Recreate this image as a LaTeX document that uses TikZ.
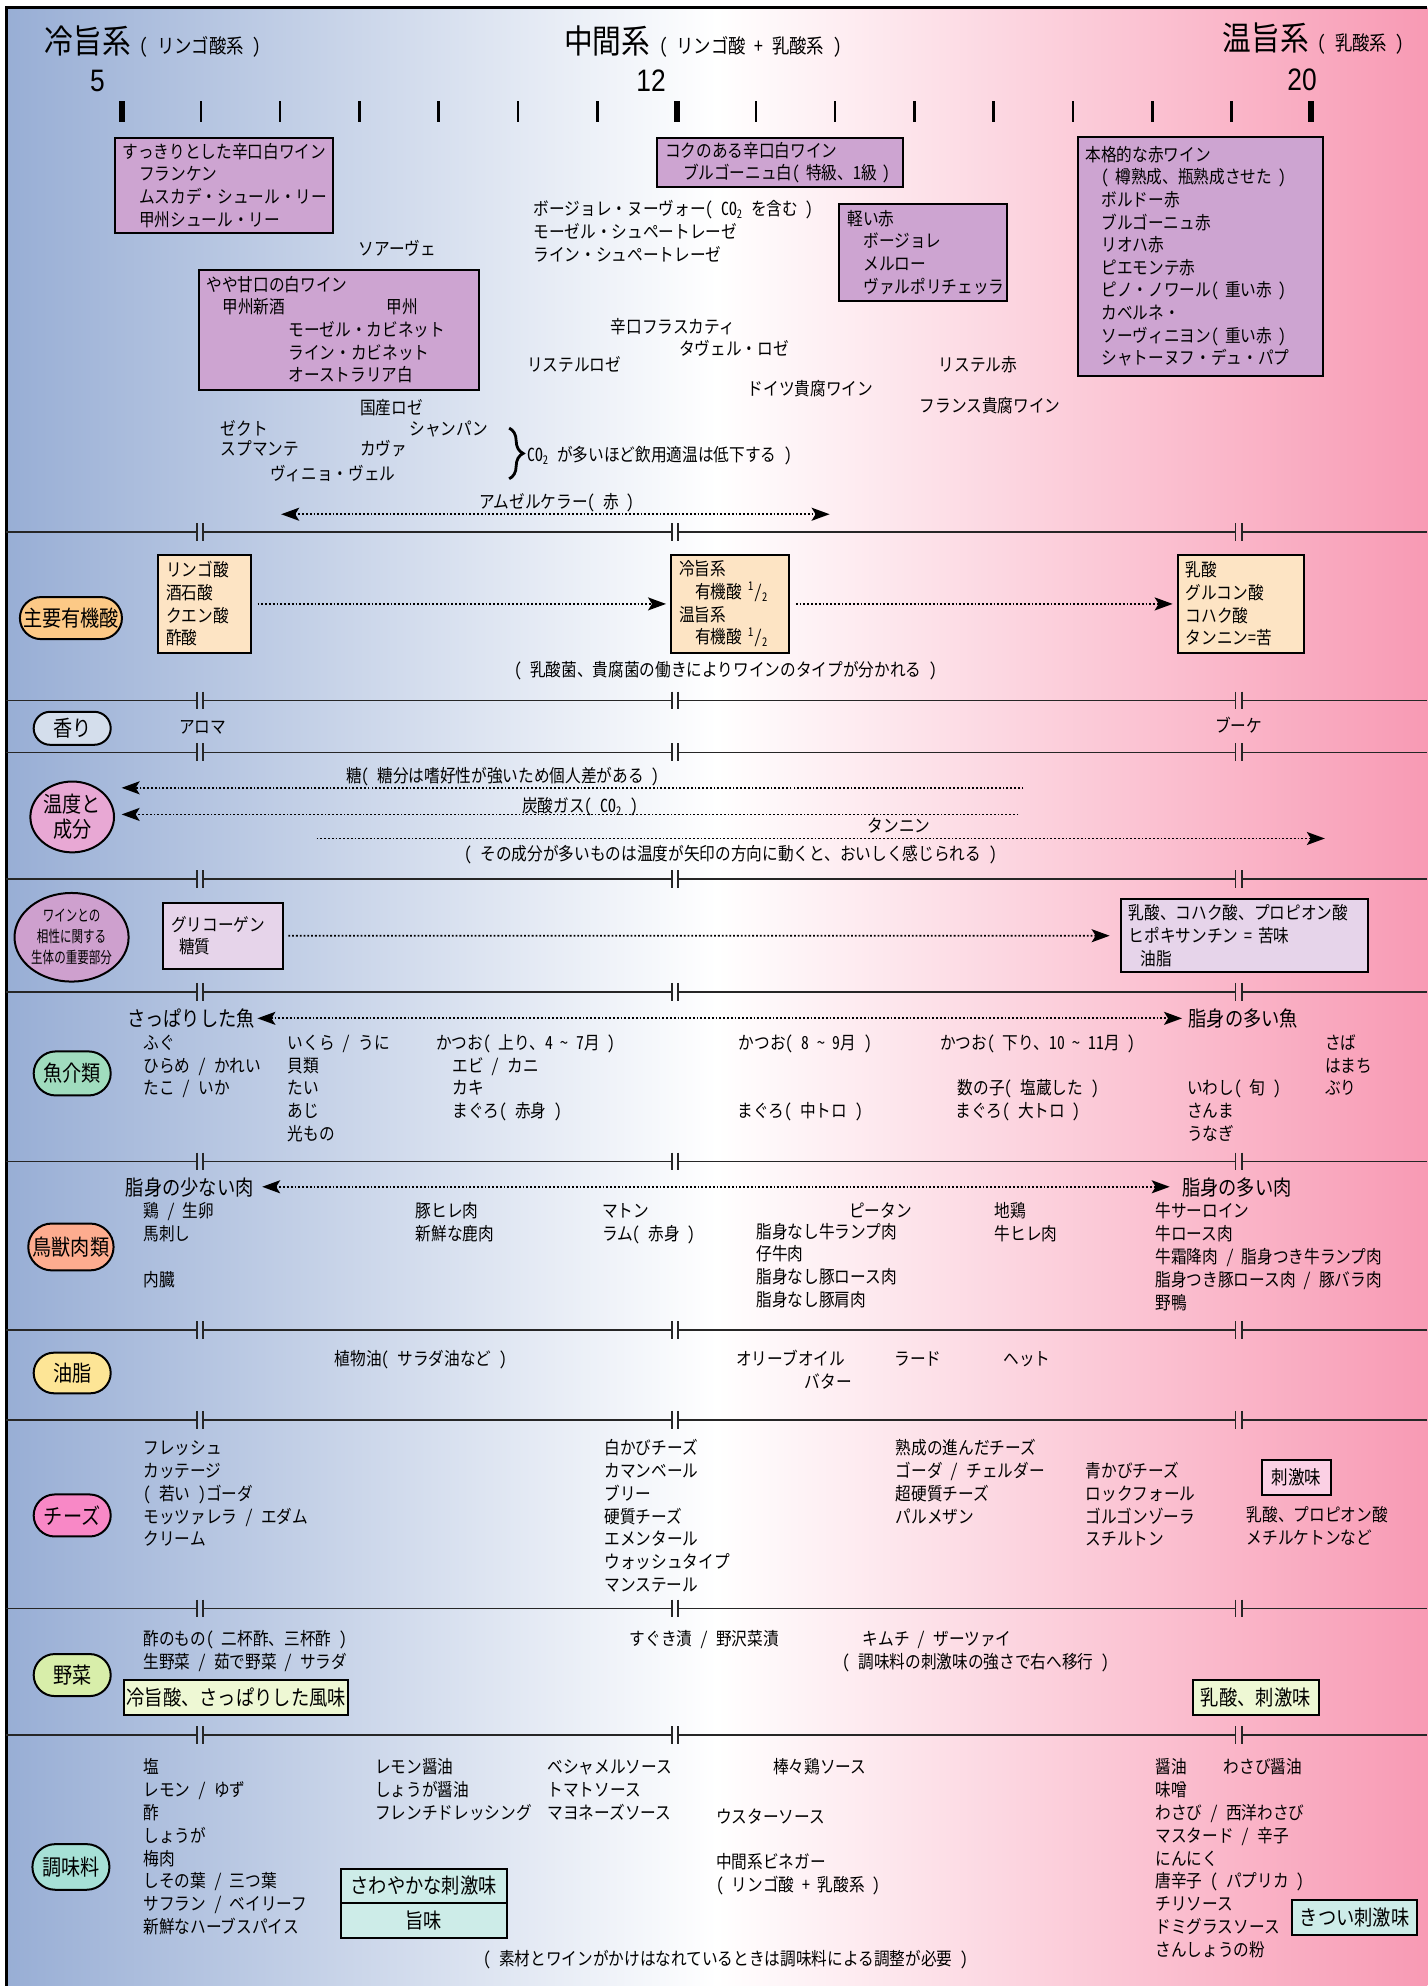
\documentclass[tikz,border=0pt]{standalone}
\usepackage{fontspec}
\setmainfont{Noto Sans CJK JP}[FakeStretch=0.87, RawFeature=+hwid]
\newfontfamily\numfont{Liberation Sans}[FakeStretch=0.85]
\usetikzlibrary{positioning}
\usetikzlibrary{shapes.misc, shapes.geometric}
\usetikzlibrary{arrows.meta}
\usetikzlibrary{decorations.pathreplacing}

\definecolor{coolblue}{RGB}{152,174,213}
\definecolor{warmpink}{RGB}{248,154,180}
\definecolor{winefill}{RGB}{205,164,209}
\definecolor{acidfill}{RGB}{253,228,196}
\definecolor{acidpill}{RGB}{252,201,134}
\definecolor{kaoripill}{RGB}{212,222,236}
\definecolor{ondopill}{RGB}{232,168,212}
\definecolor{bodypill}{RGB}{206,160,206}
\definecolor{bodyfill}{RGB}{230,212,234}
\definecolor{fishpill}{RGB}{160,220,190}
\definecolor{meatpill}{RGB}{253,172,143}
\definecolor{oilpill}{RGB}{253,229,150}
\definecolor{cheesepill}{RGB}{248,136,198}
\definecolor{stingfill}{RGB}{251,208,228}
\definecolor{vegpill}{RGB}{216,238,170}
\definecolor{vegfill}{RGB}{238,248,212}
\definecolor{spicepill}{RGB}{166,224,214}
\definecolor{spicefill}{RGB}{205,236,232}

\tikzset{
  lbl/.style={anchor=west, inner sep=0pt, text height=8.2pt, text depth=0pt},
  endlbl/.style={lbl, font=\fontsize{10.5}{12}\selectfont},
  pill/.style={draw, line width=1pt, rounded rectangle, inner sep=1pt, minimum width=40.5pt, font=\fontsize{11}{12}\selectfont},
  oval/.style={draw, line width=1pt, ellipse, inner sep=0pt, align=center},
  winebox/.style={draw, line width=1pt, fill=winefill, align=left, anchor=north west, inner xsep=4pt, inner ysep=2pt},
  acidbox/.style={winebox, fill=acidfill},
  bodybox/.style={winebox, fill=bodyfill},
  tastebox/.style={draw, line width=1pt, inner sep=1pt, font=\fontsize{10.5}{12}\selectfont},
  sep/.style={line width=0.8pt, black!85},
  dotarrow/.style={densely dotted, line width=0.9pt, -{Stealth[length=9pt,width=6.5pt,inset=2pt]}},
  dotboth/.style={densely dotted, line width=0.9pt, {Stealth[length=9pt,width=6.5pt,inset=2pt]}-{Stealth[length=9pt,width=6.5pt,inset=2pt]}}
}

% one column of labels, 18 units apart
\newcommand{\txtcol}[4]{%
  \foreach \t [count=\i] in {#4} {\node[lbl] (#1-\i) at (#2,{#3+18*(\i-1)}) {\t};}}

\begin{document}
\begin{tikzpicture}[x=0.633pt, y=-0.633pt, font=\fontsize{9}{11.3}\selectfont]
  \useasboundingbox (0,0) rectangle (1127,1568);
  \shade[left color=coolblue, right color=warmpink, middle color=white] (5,6) rectangle (1127,1568);
  \draw[line width=1.3pt] (5,1568) -- (5,6) -- (1127,6);

  % heading and scale
  \node[anchor=west, inner sep=0, font=\fontsize{16.5}{17}\selectfont] (coolhead) at (35,32) {冷旨系};
  \node[inner sep=0, font=\fontsize{10}{11}\selectfont, base right=4pt of coolhead] (coolsub) {( リンゴ酸系 )};
  \node[anchor=west, inner sep=0, font=\fontsize{16.5}{17}\selectfont] (midhead) at (445,32) {中間系};
  \node[inner sep=0, font=\fontsize{10}{11}\selectfont, base right=4pt of midhead] (midsub) {( リンゴ酸 + 乳酸系 )};
  \node[anchor=west, inner sep=0, font=\fontsize{16.5}{17}\selectfont] (warmhead) at (965,30) {温旨系};
  \node[inner sep=0, font=\fontsize{10}{11}\selectfont, base right=4pt of warmhead] (warmsub) {( 乳酸系 )};
  \node[font=\numfont\fontsize{15.5}{16}\selectfont] (deg5) at (77,64) {5};
  \node[font=\numfont\fontsize{15.5}{16}\selectfont] (deg12) at (514,64) {12};
  \node[font=\numfont\fontsize{15.5}{16}\selectfont] (deg20) at (1028,63) {20};
  \foreach \k in {0,...,15} \draw[line width=1.3pt] ({96+62.6*\k},80) -- ++(0,16);
  \foreach \k in {0,7,15} \draw[line width=3pt] ({96+62.6*\k},80) -- ++(0,16);

  % section rules
  \foreach \y in {420,553,594,694,783,917,1050,1121,1270,1370} {
    \draw[sep] (5,\y) -- (155.5,\y) (160.5,\y) -- (530.5,\y) (535.5,\y) -- (975.5,\y) (980.5,\y) -- (1127,\y);
    \foreach \x in {155.5,160.5,530.5,535.5,975.5,980.5} \draw[sep] (\x,\y-7) -- (\x,\y+7);
  }

  % wines
  \node[winebox, text width=100.9pt, minimum height=47.5pt] (drybox) at (90,108) {すっきりとした辛口白ワイン\\\hspace*{8pt}フランケン\\\hspace*{8pt}ムスカデ・シュール・リー\\\hspace*{8pt}甲州シュール・リー};
  \node[winebox, text width=114.8pt, minimum height=24.7pt] (richbox) at (518,108) {コクのある辛口白ワイン\\\hspace*{9pt}ブルゴーニュ白( 特級、1級 )};
  \node[winebox, text width=114.8pt, minimum height=119.6pt] (redbox) at (850,107) {本格的な赤ワイン\\\hspace*{8pt}( 樽熟成、瓶熟成させた )\\\hspace*{8pt}ボルドー赤\\\hspace*{8pt}ブルゴーニュ赤\\\hspace*{8pt}リオハ赤\\\hspace*{8pt}ピエモンテ赤\\\hspace*{8pt}ピノ・ノワール( 重い赤 )\\\hspace*{8pt}カベルネ・\\\hspace*{8pt}ソーヴィニヨン( 重い赤 )\\\hspace*{8pt}シャトーヌフ・デュ・パプ};
  \node[winebox, text width=75.6pt, minimum height=48.7pt] (lightbox) at (662,160) {軽い赤\\\hspace*{8pt}ボージョレ\\\hspace*{8pt}メルロー\\\hspace*{8pt}ヴァルポリチェッラ};
  \node[winebox, text width=131.9pt, minimum height=60.1pt] (semibox) at (156,212) {やや甘口の白ワイン\\\hspace*{8pt}\makebox[82pt][l]{甲州新酒}甲州\\\hspace*{41pt}モーゼル・カビネット\\\hspace*{41pt}ライン・カビネット\\\hspace*{41pt}オーストラリア白};
  \node[lbl] (soave) at (283,195) {ソアーヴェ};
  \txtcol{late}{421}{164}{ボージョレ・ヌーヴォー( CO\textsubscript{2} を含む ), モーゼル・シュペートレーゼ, ライン・シュペートレーゼ}
  \node[lbl] (frascati) at (482,257) {辛口フラスカティ};
  \node[lbl] (tavel) at (536,274) {タヴェル・ロゼ};
  \node[lbl] (listelrose) at (416,287) {リステルロゼ};
  \node[lbl] (listelred) at (741,287) {リステル赤};
  \node[lbl] (denoble) at (590,306) {ドイツ貴腐ワイン};
  \node[lbl] (frnoble) at (726,319) {フランス貴腐ワイン};
  \node[lbl] (jprose) at (284,321) {国産ロゼ};
  \node[lbl] (sekt) at (174,337) {ゼクト};
  \node[lbl] (champ) at (323,337) {シャンパン};
  \node[lbl] (spumante) at (174,353) {スプマンテ};
  \node[lbl] (cava) at (284,353) {カヴァ};
  \node[lbl] (vinho) at (213,373) {ヴィニョ・ヴェル};
  \draw[decorate, decoration={brace, amplitude=7pt}, line width=1.4pt] (402,338) -- (402,378);
  \node[lbl] (co2note) at (416,358) {CO\textsubscript{2} が多いほど飲用適温は低下する )};
  \node[lbl] (amsel) at (378,395) {アムゼルケラー( 赤 )};
  \coordinate (amselL) at (222,406);
  \coordinate (amselR) at (655,406);
  \draw[dotboth] (amselL) -- (amselR);

  % organic acids
  \node[pill, fill=acidpill, minimum width=53pt, minimum height=21pt] (acidpill) at (56,488) {主要有機酸};
  \node[acidbox, text width=38.2pt, minimum height=49.4pt] (acid1) at (124,437) {リンゴ酸\\酒石酸\\クエン酸\\酢酸};
  \node[acidbox, text width=50.9pt, minimum height=49.4pt] (acid2) at (529,437) {冷旨系\\\hspace*{8pt}有機酸 \textsuperscript{1}/\textsubscript{2}\\温旨系\\\hspace*{8pt}有機酸 \textsuperscript{1}/\textsubscript{2}};
  \node[acidbox, text width=55.3pt, minimum height=49.4pt] (acid3) at (929,437) {乳酸\\グルコン酸\\コハク酸\\タンニン=苦};
  \draw[dotarrow, shorten <=3pt, shorten >=2pt] (acid1) -- (acid2);
  \draw[dotarrow, shorten <=3pt, shorten >=2pt] (acid2) -- (acid3);
  \node[lbl, anchor=center] (acidnote) at (573,528) {( 乳酸菌、貴腐菌の働きによりワインのタイプが分かれる )};

  % aroma
  \node[pill, fill=kaoripill, minimum height=16.5pt] (kaoripill) at (57,575) {香り};
  \node[lbl, anchor=center] (aroma) at (160,573) {アロマ};
  \node[lbl, anchor=center] (bouquet) at (978,572) {ブーケ};

  % temperature and components
  \node[oval, fill=ondopill, minimum width=41.8pt, minimum height=35.4pt, font=\fontsize{11}{12.7}\selectfont] (ondo) at (57,645) {温度と\\成分};
  \node[lbl, anchor=center] (sugar) at (397,611) {糖( 糖分は嗜好性が強いため個人差がある )};
  \coordinate (sugarR) at (808,622);
  \coordinate (sugarL) at (96,622);
  \draw[dotarrow] (sugarR) -- (sugarL);
  \node[lbl, anchor=center] (gas) at (458,635) {炭酸ガス( CO\textsubscript{2} )};
  \coordinate (gasR) at (804,643);
  \coordinate (gasL) at (96,643);
  \draw[dotarrow] (gasR) -- (gasL);
  \node[lbl, anchor=center] (tannin) at (710,651) {タンニン};
  \coordinate (tanL) at (250,662);
  \coordinate (tanR) at (1046,662);
  \draw[dotarrow] (tanL) -- (tanR);
  \node[lbl, anchor=center] (ondonote) at (577,673) {( その成分が多いものは温度が矢印の方向に動くと、おいしく感じられる )};

  % body
  \node[oval, fill=bodypill, minimum width=55pt, minimum height=44.3pt, font=\fontsize{8}{10.5}\selectfont\addfontfeature{FakeStretch=0.72}] (seitai) at (56.5,740) {ワインとの\\相性に関する\\生体の重要部分};
  \node[bodybox, text width=52.1pt, minimum height=32.9pt] (glyco) at (128,712) {グリコーゲン\\\hspace*{4pt}糖質};
  \node[bodybox, text width=115.4pt, minimum height=36.7pt] (lacbody) at (884,709) {乳酸、コハク酸、プロピオン酸\\ヒポキサンチン = 苦味\\\hspace*{6pt}油脂};
  \draw[dotarrow, shorten <=2pt, shorten >=5pt] (glyco) -- (lacbody);

  % fish
  \node[pill, fill=fishpill, minimum height=22pt] (fishpill) at (57,847.5) {魚介類};
  \node[endlbl] (leanfish) at (100,804) {さっぱりした魚};
  \node[endlbl] (fatfish) at (938,804) {脂身の多い魚};
  \draw[dotboth, shorten <=1pt, shorten >=3pt] (leanfish) -- (fatfish);
  \txtcol{fa}{113}{822}{ふぐ, ひらめ / かれい, たこ / いか}
  \txtcol{fb}{227}{822}{いくら / うに, 貝類, たい, あじ, 光もの}
  \node[lbl] (katsuo1) at (344,822) {かつお( 上り、4 \textasciitilde\ 7月 )};
  \txtcol{fc}{357}{840}{エビ / カニ, カキ, まぐろ( 赤身 )}
  \node[lbl] (katsuo2) at (583,822) {かつお( 8 \textasciitilde\ 9月 )};
  \node[lbl] (chutoro) at (582,876) {まぐろ( 中トロ )};
  \node[lbl] (katsuo3) at (742,822) {かつお( 下り、10 \textasciitilde\ 11月 )};
  \node[lbl] (kazunoko) at (756,858) {数の子( 塩蔵した )};
  \node[lbl] (otoro) at (754,876) {まぐろ( 大トロ )};
  \txtcol{fd}{937}{858}{いわし( 旬 ), さんま, うなぎ}
  \txtcol{fe}{1046}{822}{さば, はまち, ぶり}

  % meat
  \node[pill, fill=meatpill, minimum height=23.4pt] (meatpill) at (56,984.5) {鳥獣肉類};
  \node[endlbl] (leanmeat) at (99,937) {脂身の少ない肉};
  \node[endlbl] (fatmeat) at (933,937) {脂身の多い肉};
  \draw[dotboth, shorten <=4pt, shorten >=6pt] (leanmeat) -- (fatmeat);
  \txtcol{ma}{113}{955}{鶏 / 生卵, 馬刺し}
  \node[lbl] (offal) at (113,1009) {内臓};
  \txtcol{mb}{328}{955}{豚ヒレ肉, 新鮮な鹿肉}
  \txtcol{mc}{475}{955}{マトン, ラム( 赤身 )}
  \node[lbl] (pitan) at (670,955) {ピータン};
  \txtcol{md}{597}{971}{脂身なし牛ランプ肉, 仔牛肉, 脂身なし豚ロース肉, 脂身なし豚肩肉}
  \txtcol{me}{785}{955}{地鶏, 牛ヒレ肉}
  \txtcol{mf}{912}{955}{牛サーロイン, 牛ロース肉, 牛霜降肉 / 脂身つき牛ランプ肉, 脂身つき豚ロース肉 / 豚バラ肉, 野鴨}

  % fats
  \node[pill, fill=oilpill, minimum height=20.3pt] (oilpill) at (57,1084) {油脂};
  \node[lbl] (vegoil) at (264,1072) {植物油( サラダ油など )};
  \node[lbl] (olive) at (581,1072) {オリーブオイル};
  \node[lbl] (butter) at (635,1090) {バター};
  \node[lbl] (lard) at (706,1072) {ラード};
  \node[lbl] (suet) at (792,1072) {ヘット};

  % cheese
  \node[pill, fill=cheesepill, minimum height=21pt] (cheesepill) at (57,1196.5) {チーズ};
  \txtcol{ca}{113}{1142}{フレッシュ, カッテージ, ( 若い )ゴーダ, モッツァレラ / エダム, クリーム}
  \txtcol{cb}{477}{1142}{白かびチーズ, カマンベール, ブリー, 硬質チーズ, エメンタール, ウォッシュタイプ, マンステール}
  \txtcol{cc}{707}{1142}{熟成の進んだチーズ, ゴーダ / チェルダー, 超硬質チーズ, パルメザン}
  \txtcol{cd}{857}{1160}{青かびチーズ, ロックフォール, ゴルゴンゾーラ, スチルトン}
  \node[tastebox, fill=stingfill, minimum width=34.8pt, minimum height=17.1pt, font=\fontsize{9.5}{11}\selectfont] (sting) at (1023.5,1166.5) {刺激味};
  \txtcol{ce}{984}{1195}{乳酸、プロピオン酸, メチルケトンなど}

  % vegetables
  \node[pill, fill=vegpill, minimum height=21pt] (vegpill) at (57,1322.5) {野菜};
  \txtcol{va}{113}{1293}{酢のもの( 二杯酢、三杯酢 ), 生野菜 / 茹で野菜 / サラダ}
  \node[tastebox, fill=vegfill, minimum width=112pt, minimum height=17.7pt] (coolveg) at (186.5,1340) {冷旨酸、さっぱりした風味};
  \node[lbl] (suguki) at (497,1293) {すぐき漬 / 野沢菜漬};
  \node[lbl] (kimchi) at (681,1293) {キムチ / ザーツァイ};
  \node[lbl] (shiftnote) at (665,1311) {( 調味料の刺激味の強さで右へ移行 )};
  \node[tastebox, fill=vegfill, minimum width=62.7pt, minimum height=17.7pt] (warmveg) at (991.5,1340) {乳酸、刺激味};

  % seasonings
  \node[pill, fill=spicepill, minimum height=22.8pt] (spicepill) at (56,1474) {調味料};
  \txtcol{sa}{113}{1394}{塩, レモン / ゆず, 酢, しょうが, 梅肉, しその葉 / 三つ葉, サフラン / ベイリーフ, 新鮮なハーブスパイス}
  \txtcol{sb}{296}{1394}{レモン醤油, しょうが醤油, フレンチドレッシング}
  \txtcol{sc}{432}{1394}{ベシャメルソース, トマトソース, マヨネーズソース}
  \node[lbl] (bangbang) at (610,1394) {棒々鶏ソース};
  \node[lbl] (worcester) at (565,1433) {ウスターソース};
  \txtcol{sd}{565}{1469}{中間系ビネガー, ( リンゴ酸 + 乳酸系 )}
  \txtcol{se}{912}{1394}{醤油, 味噌, わさび / 西洋わさび, マスタード / 辛子, にんにく, 唐辛子 ( パプリカ ), チリソース, ドミグラスソース, さんしょうの粉}
  \node[lbl] (wasabishoyu) at (966,1394) {わさび醤油};
  \node[tastebox, fill=spicefill, minimum width=82.9pt, minimum height=17.4pt] (fresh) at (334.5,1489) {さわやかな刺激味};
  \node[tastebox, fill=spicefill, minimum width=82.9pt, minimum height=17.4pt] (umami) at (334.5,1516.5) {旨味};
  \node[tastebox, fill=spicefill, minimum width=62.7pt, minimum height=17.7pt] (harsh) at (1069.5,1514) {きつい刺激味};
  \node[lbl, anchor=center] (spicenote) at (573,1545) {( 素材とワインがかけはなれているときは調味料による調整が必要 )};
\end{tikzpicture}
\end{document}
